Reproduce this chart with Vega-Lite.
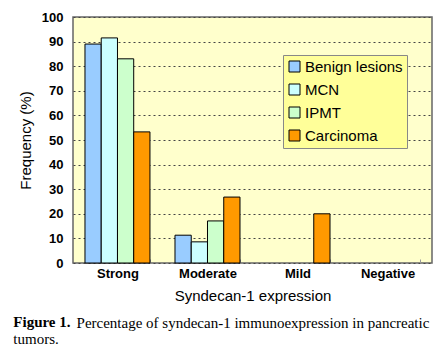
{
  "$schema": "https://vega.github.io/schema/vega-lite/v6.json",
  "padding": {"left": 12, "top": 10, "right": 5, "bottom": 5},
  "background": "white",
  "config": {
    "view": {"fill": "#FFFFCC", "stroke": "#666666", "strokeWidth": 1.5},
    "font": "Liberation Sans"
  },
  "title": {
    "text": "Percentage of syndecan-1 immunoexpression in pancreatic",
    "orient": "bottom",
    "anchor": "start",
    "frame": "bounds",
    "font": "Liberation Serif",
    "fontSize": 15,
    "fontWeight": "normal",
    "color": "black",
    "offset": 0,
    "dx": 64,
    "dy": -32
  },
  "vconcat": [
    {
      "width": 359,
      "height": 246,
      "title": {
        "text": "Figure 1.",
        "subtitle": "tumors.",
        "orient": "bottom",
        "anchor": "start",
        "frame": "bounds",
        "font": "Liberation Serif",
        "fontSize": 15,
        "fontWeight": "bold",
        "color": "black",
        "subtitleFont": "Liberation Serif",
        "subtitleFontSize": 15,
        "subtitleColor": "black",
        "subtitlePadding": 2,
        "offset": 12,
        "dx": -5
      },
      "data": {
        "values": [
          {"expression": "Strong", "group": "Benign lesions", "frequency": 89},
          {"expression": "Strong", "group": "MCN", "frequency": 91.5},
          {"expression": "Strong", "group": "IPMT", "frequency": 83},
          {"expression": "Strong", "group": "Carcinoma", "frequency": 53.3},
          {"expression": "Moderate", "group": "Benign lesions", "frequency": 11.3},
          {"expression": "Moderate", "group": "MCN", "frequency": 8.6},
          {"expression": "Moderate", "group": "IPMT", "frequency": 17.1},
          {"expression": "Moderate", "group": "Carcinoma", "frequency": 26.8},
          {"expression": "Mild", "group": "Carcinoma", "frequency": 20}
        ]
      },
      "mark": {"type": "bar", "stroke": "black", "strokeWidth": 1},
      "encoding": {
        "x": {
          "field": "expression",
          "type": "nominal",
          "sort": null,
          "scale": {"domain": ["Strong", "Moderate", "Mild", "Negative"], "paddingInner": 0.278, "paddingOuter": 0.133},
          "axis": {
            "title": "Syndecan-1 expression",
            "titleFont": "Liberation Sans",
            "titleFontSize": 15,
            "titleFontWeight": "normal",
            "titleColor": "black",
            "titlePadding": 8,
            "labelAngle": 0,
            "labelFont": "Liberation Sans",
            "labelFontSize": 13,
            "labelFontWeight": "bold",
            "labelColor": "black",
            "labelPadding": 8,
            "domain": false,
            "tickBand": "extent",
            "tickSize": -4,
            "tickColor": "#999999",
            "grid": false
          }
        },
        "xOffset": {
          "field": "group",
          "type": "nominal",
          "scale": {"domain": ["Benign lesions", "MCN", "IPMT", "Carcinoma"], "paddingInner": 0, "paddingOuter": 0}
        },
        "y": {
          "field": "frequency",
          "type": "quantitative",
          "scale": {"domain": [0, 100], "nice": false},
          "axis": {
            "title": "Frequency (%)",
            "titleFont": "Liberation Sans",
            "titleFontSize": 15,
            "titleFontWeight": "normal",
            "titleColor": "black",
            "titlePadding": 8,
            "values": [0, 10, 20, 30, 40, 50, 60, 70, 80, 90, 100],
            "labelFont": "Liberation Sans",
            "labelFontSize": 13,
            "labelFontWeight": "bold",
            "labelColor": "black",
            "labelPadding": 10,
            "ticks": false,
            "domain": false,
            "grid": true,
            "gridColor": "#444444",
            "gridDash": [2, 3],
            "gridWidth": 1
          }
        },
        "color": {
          "field": "group",
          "type": "nominal",
          "scale": {
            "domain": ["Benign lesions", "MCN", "IPMT", "Carcinoma"],
            "range": ["#99CCFF", "#CCFFFF", "#CCFFCC", "#FF9900"]
          },
          "legend": {
            "title": null,
            "orient": "none",
            "legendX": 210,
            "legendY": 38,
            "fillColor": "#FFFF99",
            "strokeColor": "#888888",
            "padding": 4,
            "symbolType": "square",
            "symbolSize": 121,
            "symbolStrokeColor": "black",
            "symbolStrokeWidth": 1,
            "symbolOpacity": 1,
            "labelFont": "Liberation Sans",
            "labelFontSize": 15,
            "labelColor": "black",
            "labelOffset": 3,
            "rowPadding": 7
          }
        }
      }
    }
  ]
}
